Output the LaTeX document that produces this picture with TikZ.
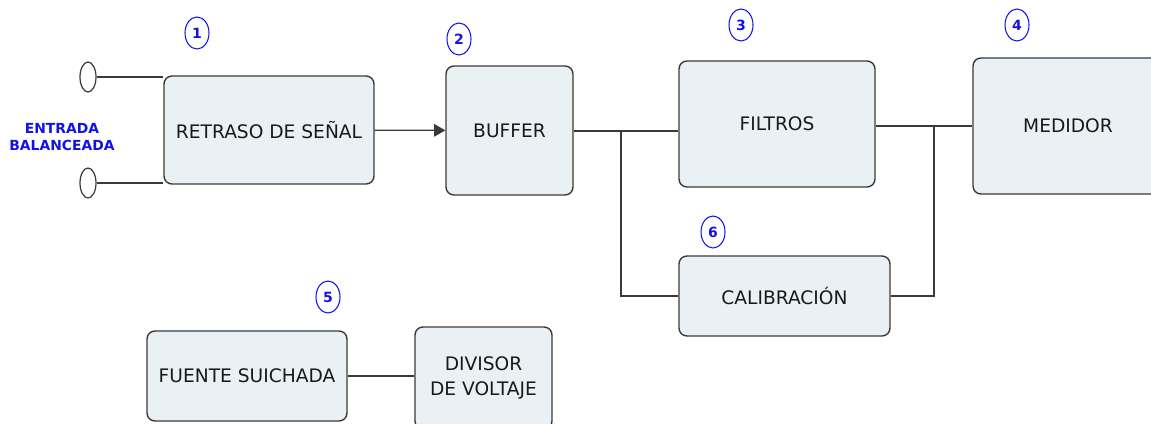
\documentclass[tikz,border=0pt]{standalone}
\usepackage{fontspec}
\setmainfont{DejaVu Sans}
\usetikzlibrary{arrows, shapes}
\definecolor{boxfill}{HTML}{EAF1F4}
\definecolor{boxline}{HTML}{3A3A3A}
\definecolor{numblue}{HTML}{1212E6}

\begin{document}
\begin{tikzpicture}[x=0.02cm,y=-0.02cm]
		\tikzstyle{every node} = [font = \fontsize{10.6}{12.5}\selectfont, text=black!90]
		\tikzstyle{block} = [draw=boxline, fill=boxfill, line width=0.8pt, rounded corners=4.5pt, align=center, inner sep=0pt]
		\tikzstyle{num} = [ellipse, draw=numblue, text=numblue, line width=0.6pt, minimum width=0.48cm, minimum height=0.64cm, inner sep=0pt, font=\fontsize{8}{9}\selectfont\bfseries]
		\tikzstyle{term} = [ellipse, draw=boxline, line width=0.7pt, minimum width=0.32cm, minimum height=0.6cm, inner sep=0pt]
		\tikzstyle{wire} = [draw=boxline, line width=0.7pt]
		\useasboundingbox (0,0) rectangle (1151,423);
				% bloques
				\node[block, minimum width=4.2cm, minimum height=2.16cm] (retraso) at (269,130) {RETRASO DE SEÑAL};
				\node[block, minimum width=2.54cm, minimum height=2.58cm] (buffer) at (509.5,130.5) {BUFFER};
				\node[block, minimum width=3.92cm, minimum height=2.52cm] (filtros) at (777,124) {FILTROS};
				\node[block, minimum width=3.8cm, minimum height=2.72cm] (medidor) at (1068,126) {MEDIDOR};
				\node[block, minimum width=4.22cm, minimum height=1.6cm] (calib) at (784.5,296) {CALIBRACIÓN};
				\node[block, minimum width=4.0cm, minimum height=1.8cm] (fuente) at (247,376) {FUENTE SUICHADA};
				\node[block, minimum width=2.74cm, minimum height=2.04cm, font=\fontsize{10.6}{14}\selectfont] (divisor) at (483.5,378) {DIVISOR\\DE VOLTAJE};
				% entrada
				\node[term] (termA) at (88,77) {};
				\node[term] (termB) at (88,183) {};
				\node[font=\fontsize{7.9}{9.4}\selectfont\bfseries, text=numblue, align=center] (entrada) at (62,137) {ENTRADA\\BALANCEADA};
				% numeros
				\node[num] (n1) at (197,33) {1};
				\node[num] (n2) at (459,39) {2};
				\node[num] (n3) at (741,25) {3};
				\node[num] (n4) at (1017,25) {4};
				\node[num] (n5) at (328,297) {5};
				\node[num] (n6) at (713,232) {6};
				% conexiones
				\coordinate (jA) at (621,131);
				\coordinate (jB) at (934,126);
				\path[wire] (termA.east) -- (termA.east -| retraso.west);
				\path[wire] (termB.east) -- (termB.east -| retraso.west);
				\path[wire,->,>=triangle 60] (retraso) -- (buffer);
				\path[wire] (buffer.east |- jA) -- (jA) -- (jA -| filtros.west);
				\path[wire] (jA) |- (calib.west);
				\path[wire] (jB -| filtros.east) -- (jB -| medidor.west);
				\path[wire] (jB) |- (calib.east);
				\path[wire] (fuente.east) -- (fuente.east -| divisor.west);
	\end{tikzpicture}
\end{document}
